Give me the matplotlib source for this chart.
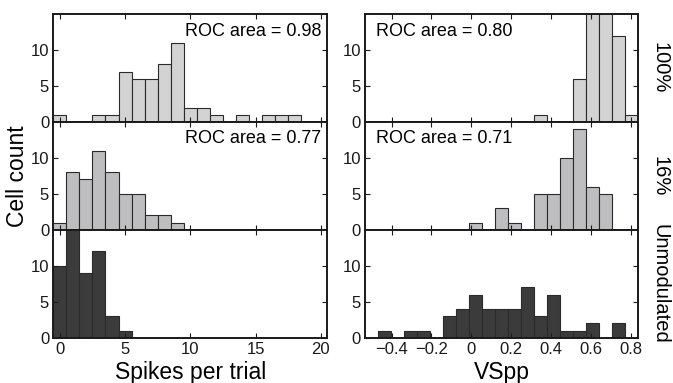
import matplotlib.pyplot as plt
import numpy as np

plt.rcParams['font.family'] = ['Liberation Sans', 'DejaVu Sans']

# гистограммы: число спайков за пробу (центры бинов целые)
spike_bins = [0, 1, 2, 3, 4, 5, 6, 7, 8, 9, 10, 11, 12, 13, 14, 15, 16, 17, 18, 19]
spike_100 = [1, 0, 0, 1, 1, 7, 6, 6, 8, 11, 2, 2, 1, 0, 1, 0, 1, 1, 1, 0]
spike_16 = [1, 8, 7, 11, 8, 5, 5, 2, 2, 1, 0, 0, 0, 0, 0, 0, 0, 0, 0, 0]
spike_unmod = [10, 16, 9, 12, 3, 1, 0, 0, 0, 0, 0, 0, 0, 0, 0, 0, 0, 0, 0, 0]

# VSpp (центры бинов)
vs_bins = [-0.435, -0.370, -0.305, -0.239, -0.174, -0.109, -0.044, 0.022, 0.087, 0.152,
           0.217, 0.282, 0.348, 0.413, 0.478, 0.543, 0.608, 0.674, 0.739, 0.804]
vs_100 = [0, 0, 0, 0, 0, 0, 0, 0, 0, 0, 0, 0, 1, 0, 0, 6, 17, 16, 12, 1]
vs_16 = [0, 0, 0, 0, 0, 0, 0, 1, 0, 3, 1, 0, 5, 5, 10, 14, 6, 5, 0, 0]
vs_unmod = [1, 0, 1, 1, 0, 3, 4, 6, 4, 4, 4, 7, 3, 6, 1, 1, 2, 0, 2, 0]

roc_spikes = ['ROC area = 0.98', 'ROC area = 0.77', None]
roc_vs = ['ROC area = 0.80', 'ROC area = 0.71', None]
row_names = ['100%', '16%', 'Unmodulated']

colors = ['#d3d3d3', '#bebec0', '#3b3b3b']

W, H = 673, 383
fig = plt.figure(figsize=(W / 100, H / 100), dpi=100)

top_px = 14.0
panel_h = 107.9
left_x = (53.3, 327.3)
right_x = (365.0, 638.3)


def make_ax(xr, row):
    y0 = top_px + panel_h * (row + 1)
    return fig.add_axes([xr[0] / W, (H - y0) / H, (xr[1] - xr[0]) / W, panel_h / H])


def style(ax, bottom):
    for s in ax.spines.values():
        s.set_linewidth(1.4)
        s.set_color('#1a1a1a')
    ax.tick_params(direction='in', length=3.5, width=0.8, top=True, right=True,
                   labelsize=12, pad=3, colors='#1a1a1a')
    ax.set_ylim(0, 15)
    ax.set_yticks([0, 5, 10])
    if not bottom:
        ax.tick_params(labelbottom=False)


spike_rows = [spike_100, spike_16, spike_unmod]
vs_rows = [vs_100, vs_16, vs_unmod]
vs_w = 0.0652

for row in range(3):
    ax = make_ax(left_x, row)
    ax.bar(spike_bins, spike_rows[row], width=1.0, color=colors[row],
           edgecolor='#2a2a2a', linewidth=0.8)
    ax.set_xlim(-0.5, 20.5)
    ax.set_xticks([0, 5, 10, 15, 20])
    style(ax, row == 2)
    if roc_spikes[row]:
        ax.text(0.978, 0.8, roc_spikes[row], transform=ax.transAxes,
                ha='right', va='baseline', fontsize=13)
    if row == 2:
        ax.set_xlabel('Spikes per trial', fontsize=16.5, labelpad=3)

    ax = make_ax(right_x, row)
    ax.bar(vs_bins, vs_rows[row], width=vs_w, color=colors[row],
           edgecolor='#2a2a2a', linewidth=0.8)
    ax.set_xlim(-0.533, 0.8365)
    ax.set_xticks([-0.4, -0.2, 0, 0.2, 0.4, 0.6, 0.8])
    ax.set_xticklabels(['\u22120.4', '\u22120.2', '0', '0.2', '0.4', '0.6', '0.8'])
    style(ax, row == 2)
    if roc_vs[row]:
        ax.text(0.04, 0.8, roc_vs[row], transform=ax.transAxes,
                ha='left', va='baseline', fontsize=13)
    if row == 2:
        ax.set_xlabel('VSpp', fontsize=16.5, labelpad=3)

    yc = top_px + panel_h * (row + 0.5)
    fig.text(660 / W, (H - yc) / H, row_names[row], rotation=-90,
             ha='center', va='center', fontsize=14.5)

fig.text(18 / W, (H - 176) / H, 'Cell count', rotation=90,
         ha='center', va='center', fontsize=16.5)

fig.savefig('out.png', dpi=100)
